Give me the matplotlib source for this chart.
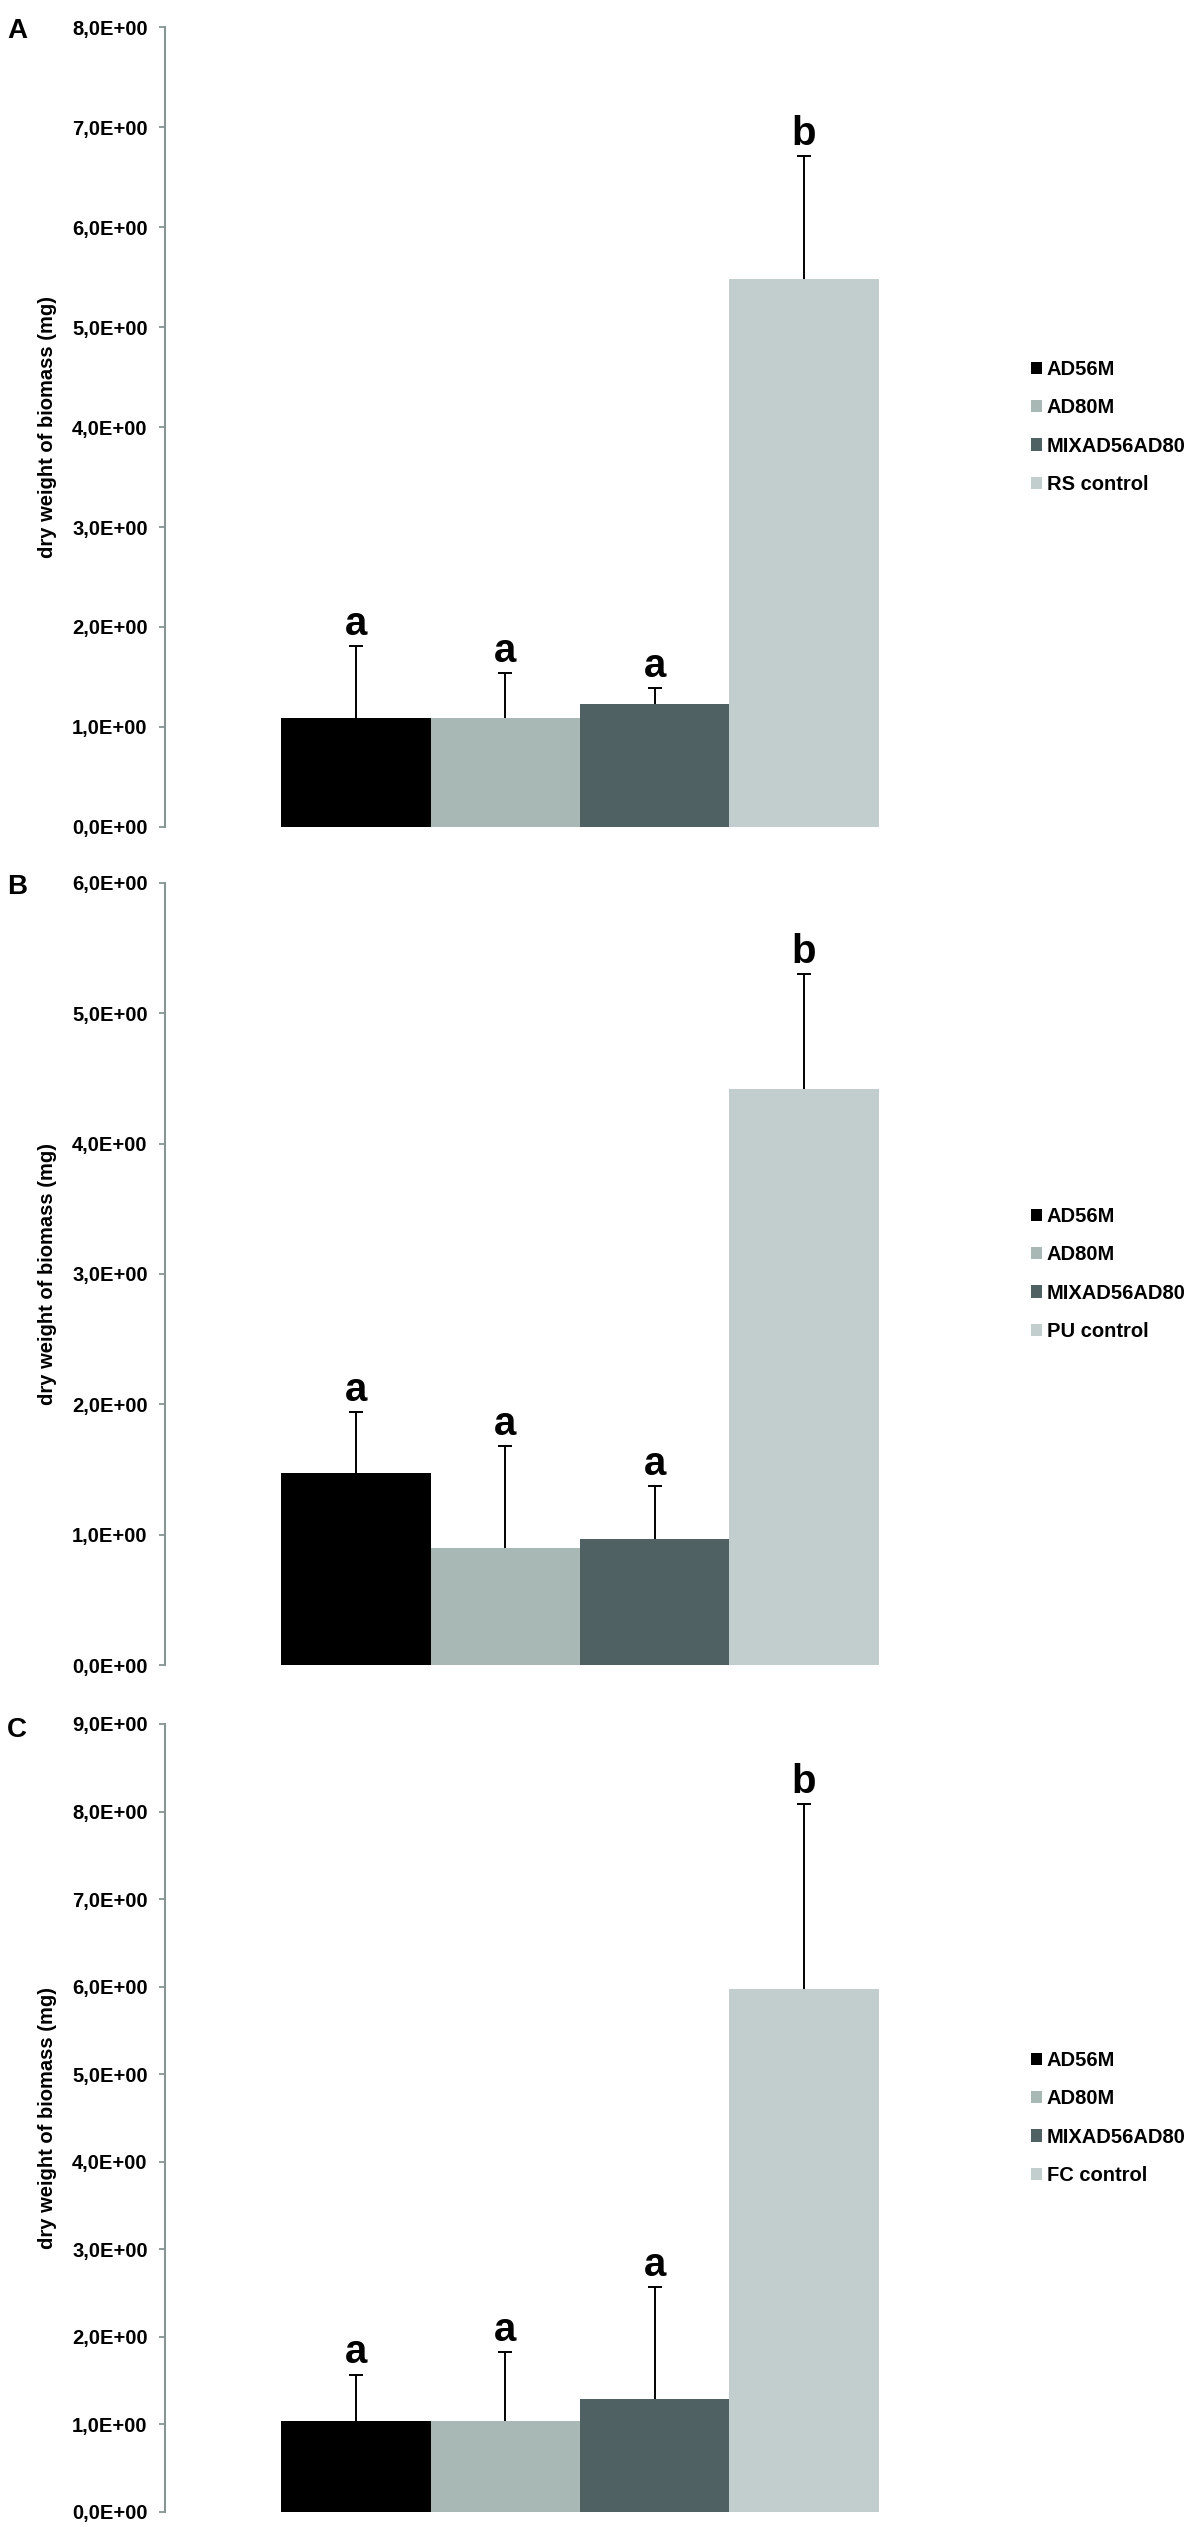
import matplotlib
matplotlib.use("Agg")
import matplotlib.pyplot as plt
from matplotlib.patches import Patch
from matplotlib.ticker import FuncFormatter

plt.rcParams['font.family'] = ['Liberation Sans', 'DejaVu Sans']
plt.rcParams['font.weight'] = 'bold'

# data (mg)
treatments = ['AD56M', 'AD80M', 'MIXAD56AD80']
controls = ['RS control', 'PU control', 'FC control']
panel_names = ['A', 'B', 'C']
y_max = [8, 6, 9]

means_a = [1.09, 1.09, 1.23, 5.48]
errs_a = [0.72, 0.45, 0.16, 1.23]
letters_a = ['a', 'a', 'a', 'b']

means_b = [1.47, 0.90, 0.97, 4.42]
errs_b = [0.47, 0.78, 0.40, 0.88]
letters_b = ['a', 'a', 'a', 'b']

means_c = [1.04, 1.04, 1.29, 5.97]
errs_c = [0.53, 0.79, 1.28, 2.12]
letters_c = ['a', 'a', 'a', 'b']

colors = ['#000000', '#a7b8b5', '#4f6163', '#c1cecd']
spine_col = '#879595'

W, H = 1204, 2527
fig = plt.figure(figsize=(W / 100, H / 100), dpi=100)

# axes boxes in pixels: (top, bottom)
boxes = [(27, 827), (883, 1665), (1724, 2512)]
letter_base = [38, 894, 1737]
ax_left, ax_right = 165, 995

panels = [
    (means_a, errs_a, letters_a),
    (means_b, errs_b, letters_b),
    (means_c, errs_c, letters_c),
]


def fmt(v, pos):
    return f"{v:.1E}".replace('.', ',')


for i, (means, errs, letters) in enumerate(panels):
    top, bot = boxes[i]
    ax = fig.add_axes([ax_left / W, 1 - bot / H, (ax_right - ax_left) / W, (bot - top) / H])
    x = list(range(len(means)))
    ax.bar(x, means, width=1.0, color=colors, linewidth=0, zorder=2)
    eb = ax.errorbar(x, means, yerr=[[0] * len(errs), errs], fmt='none', ecolor='black',
                     elinewidth=1.4, capsize=4.8, capthick=1.4, zorder=3)
    # only the upper whisker has a cap
    for cap in eb[1]:
        if list(cap.get_ydata()) == list(means):
            cap.set_visible(False)
    for xi, m, e, lt in zip(x, means, errs, letters):
        ax.annotate(lt, (xi, m + e), xytext=(0, 8), textcoords='offset points',
                    ha='center', va='baseline', fontsize=29, fontweight='bold')

    ax.set_xlim(-1.28, 4.28)
    ax.set_ylim(0, y_max[i])
    ax.set_yticks(range(0, y_max[i] + 1))
    ax.yaxis.set_major_formatter(FuncFormatter(fmt))
    ax.set_xticks([])
    for s in ['top', 'right', 'bottom']:
        ax.spines[s].set_visible(False)
    ax.spines['left'].set_color(spine_col)
    ax.spines['left'].set_linewidth(1.5)
    ax.tick_params(axis='y', direction='out', length=4, width=1.3, color=spine_col,
                   pad=8.5, labelsize=14.5)
    for t in ax.get_yticklabels():
        t.set_fontweight('bold')
    ax.set_ylabel('dry weight of biomass (mg)', fontsize=14.5, fontweight='bold')
    ax.yaxis.set_label_coords(-0.13, 0.5)

    labels = treatments + [controls[i]]
    handles = [Patch(facecolor=c, edgecolor='none') for c in colors]
    ax.legend(handles, labels, loc='center left', bbox_to_anchor=(1.043, 0.5),
              frameon=False, borderaxespad=0, borderpad=0, handlelength=0.55,
              handleheight=0.55, handletextpad=0.25, labelspacing=0.95,
              prop={'size': 14.5, 'weight': 'bold'})

    fig.text(7 / W, 1 - letter_base[i] / H, panel_names[i], fontsize=20,
             fontweight='bold', va='baseline', ha='left')

fig.savefig('out.png', dpi=100)
